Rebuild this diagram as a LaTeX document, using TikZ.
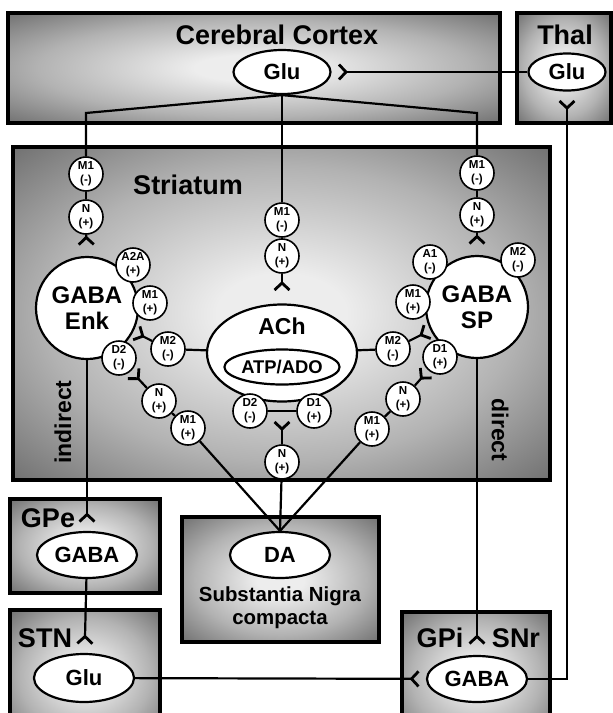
\documentclass[tikz,border=0pt]{standalone}
\usepackage{fontspec}
\setmainfont{Liberation Sans}
\usetikzlibrary{arrows.meta,shapes.geometric}
\definecolor{regionlight}{rgb}{0.93,0.93,0.93}
\definecolor{regionmid}{rgb}{0.70,0.70,0.70}
\definecolor{regionedge}{rgb}{0.45,0.45,0.45}
\definecolor{regioncorner}{rgb}{0.35,0.35,0.35}
\pgfdeclareradialshading{regionshade}{\pgfpoint{0bp}{0bp}}{%
  color(0bp)=(regionlight); color(6bp)=(regionlight); color(22bp)=(regionmid);
  color(35bp)=(regionedge); color(50bp)=(regioncorner)}
\tikzset{
  region/.style={
    draw=black,
    line width=1.6pt,
    shading=regionshade
  },
  regionname/.style={
    font=\fontsize{13.5}{15}\selectfont\bfseries
  },
  transmitter/.style={
    ellipse,
    draw,
    line width=1.1pt,
    fill=white,
    inner sep=0pt,
    minimum width=50pt,
    minimum height=23pt,
    font=\fontsize{11}{12}\selectfont\bfseries
  },
  neuron/.style={
    circle,
    draw,
    line width=1.1pt,
    fill=white,
    align=center,
    inner sep=0pt,
    minimum size=51pt,
    font=\fontsize{12}{13}\selectfont\bfseries
  },
  receptor/.style={
    circle,
    draw,
    line width=.8pt,
    fill=white,
    align=center,
    inner sep=0pt,
    minimum size=17pt,
    font=\fontsize{5.8}{7}\selectfont\bfseries
  },
  link/.style={
    line width=1.1pt
  },
  synapse/.style={
    line width=1.1pt,
    -{Straight Barb[reversed,length=3.5pt,width=7.5pt,line width=1.4pt]}
  },
  pathway/.style={
    font=\fontsize{11.5}{12}\selectfont\bfseries
  }
}

\begin{document}
\begin{tikzpicture}[x=0.5pt,y=-0.5pt]
\useasboundingbox (0,0) rectangle (613,713);
\clip (0,0) rectangle (613,713);
% regions
\path[region] (8,13) rectangle (500,123);
\path[region] (517,13) rectangle (611,123);
\path[region] (13,147) rectangle (550,480);
\path[region] (10,499) rectangle (160,593);
\path[region] (182,517) rectangle (379,642);
\path[region] (10,610) rectangle (160,740);
\path[region] (402,612) rectangle (550,740);

\node[regionname] (cortexname) at (277,35) {Cerebral Cortex};
\node[regionname] (thalname) at (565,35) {Thal};
\node[regionname] (striatumname) at (188,185) {Striatum};
\node[regionname] (gpename) at (48,518) {GPe};
\node[regionname] (stnname) at (45,638) {STN};
\node[regionname] (gpiname) at (440,638) {GPi};
\node[regionname] (snrname) at (516,638) {SNr};
\node[pathway, rotate=90] (indirect) at (63,422) {indirect};
\node[pathway, rotate=-90] (direct) at (500,430) {direct};

\node[transmitter, minimum width=48.5pt, minimum height=22pt] (ctxglu) at (282,72) {Glu};
\node[transmitter, minimum width=38.5pt, minimum height=18.5pt] (thalglu) at (567,72) {Glu};
\node[transmitter] (gpegaba) at (87,555) {GABA};
\node[transmitter, minimum height=24pt] (stnglu) at (84,678) {Glu};
\node[transmitter] (gpigaba) at (477,679) {GABA};
\node[transmitter] (da) at (280,555) {DA};
\node[font=\fontsize{10.2}{11.5}\selectfont\bfseries, align=center] (snname) at (280,608) {Substantia Nigra\\compacta};

% striatal cells
\node[neuron] (enk) at (87,308) {GABA\\Enk};
\node[neuron] (sp) at (477,307) {GABA\\SP};
\node[neuron, ellipse, minimum width=75pt, minimum height=48.5pt] (ach) at (282,353) {};
\node[font=\fontsize{11.5}{12}\selectfont\bfseries] (achname) at (282,326) {ACh};
\node[ellipse, draw, line width=1.1pt, minimum width=57.5pt, minimum height=17.5pt, inner sep=0pt, font=\fontsize{9.2}{10}\selectfont\bfseries] (atp) at (282,367) {ATP/ADO};

% receptors
\node[receptor] (m1L) at (86,174) {M1\\(-)};
\node[receptor] (nL) at (86,217) {N\\(+)};
\node[receptor] (a2a) at (133,265) {A2A\\(+)};
\node[receptor] (m1e) at (150,303) {M1\\(+)};
\node[receptor] (d2e) at (119,358) {D2\\(-)};
\node[receptor] (m2L) at (168,349) {M2\\(-)};
\node[receptor] (nL2) at (159,401) {N\\(+)};
\node[receptor] (m1L2) at (188,428) {M1\\(+)};

\node[receptor] (m1C) at (282,220) {M1\\(-)};
\node[receptor] (nC) at (282,256) {N\\(+)};
\node[receptor] (d2a) at (250,411) {D2\\(-)};
\node[receptor] (d1a) at (314,411) {D1\\(+)};
\node[receptor] (nC2) at (282,462) {N\\(+)};

\node[receptor] (m1R) at (477,173) {M1\\(-)};
\node[receptor] (nR) at (477,215) {N\\(+)};
\node[receptor] (a1) at (430,262) {A1\\(-)};
\node[receptor] (m2s) at (518,260) {M2\\(-)};
\node[receptor] (m1s) at (413,302) {M1\\(+)};
\node[receptor] (d1s) at (440,357) {D1\\(+)};
\node[receptor] (m2R) at (393,349) {M2\\(-)};
\node[receptor] (nR2) at (403,399) {N\\(+)};
\node[receptor] (m1R2) at (372,429) {M1\\(+)};

\coordinate (kL) at (86,113);
\coordinate (kR) at (477,113);

% cortical input
\draw[link] (ctxglu.south) -- (kL) -- (m1L);
\draw[link] (ctxglu.south) -- (m1C);
\draw[link] (ctxglu.south) -- (kR) -- (m1R);
\draw[link] (m1L) -- (nL);
\draw[link] (m1C) -- (nC);
\draw[link] (m1R) -- (nR);
\draw[synapse, shorten >=5pt] (nL) -- (enk);
\draw[synapse, shorten >=6pt] (nC) -- (ach);
\draw[synapse, shorten >=5pt] (nR) -- (sp);

% cholinergic
\draw[link] (m2L) -- (ach);
\draw[link] (m2R) -- (ach);
\draw[synapse, shorten >=1pt] (m2L) -- (enk);
\draw[synapse, shorten >=1pt] (m2R) -- (sp);
\draw[link] (d2a) -- (d1a);

% dopaminergic
\draw[link] (m1L2) -- (nL2);
\draw[link] (m1R2) -- (nR2);
\draw[synapse, shorten >=1pt] (nL2) -- (d2e);
\draw[synapse, shorten >=1pt] (nR2) -- (d1s);
\draw[synapse, shorten >=9pt] (nC2) -- (ach);
\draw[link] (m1L2) -- (da.north);
\draw[link] (nC2) -- (da.north);
\draw[link] (m1R2) -- (da.north);

% output loops
\draw[synapse, shorten >=4pt] (enk) -- (gpegaba);
\draw[synapse, shorten >=4pt] (gpegaba) -- (stnglu);
\draw[synapse, shorten >=5pt] (sp) -- (gpigaba);
\draw[synapse, shorten >=3pt] (stnglu) -- (gpigaba);
\draw[synapse, shorten >=4pt] (gpigaba) -| (thalglu);
\draw[synapse, shorten >=3pt] (thalglu) -- (ctxglu);
\end{tikzpicture}
\end{document}
